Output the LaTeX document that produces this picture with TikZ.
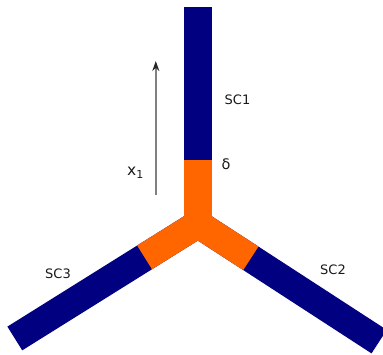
\documentclass[tikz,border=0pt]{standalone}
\usepackage{fontspec}
\setmainfont{DejaVu Sans}
\usetikzlibrary{arrows.meta,calc}
\definecolor{navyarm}{RGB}{0,0,128}
\definecolor{orangearm}{RGB}{255,102,0}
\tikzset{
  armbar/.style={line width=28pt, line cap=butt, draw=navyarm},
  orangebar/.style={line width=28pt, line cap=butt, draw=orangearm},
  lbl/.style={font=\fontsize{13}{14}\selectfont, text=black!90, inner sep=0pt},
  axisarrow/.style={draw=black!50, line width=1.8pt, -{Stealth[black!85, length=10pt, width=7pt]}}
}
\begin{document}
\begin{tikzpicture}[x=1pt,y=-1pt]
\useasboundingbox (0,0) rectangle (383,354);
% centre and arm ends (y grows downward)
\coordinate (c) at (198,224);
\coordinate (t1) at ($(c)+(-90:217)$);
\coordinate (t3) at ($(c)+(148:216)$);
\coordinate (t2) at ($(c)+(33:216)$);
\coordinate (o1) at ($(c)+(-90:64)$);
\coordinate (o3) at ($(c)+(148:63)$);
\coordinate (o2) at ($(c)+(33:63)$);
% blue arms
\draw[armbar] (c) -- (t1);
\draw[armbar] (c) -- (t3);
\draw[armbar] (c) -- (t2);
% orange junction
\draw[orangebar] (c) -- (o1);
\draw[orangebar] (c) -- (o3);
\draw[orangebar] (c) -- (o2);
\fill[orangearm] (c) circle (13.5pt);
% axis arrow
\coordinate (a0) at (155.8,195);
\coordinate (a1) at (155.8,61);
\draw[axisarrow] (a0) -- (a1);
% labels
\node[lbl] (sc1) at (237.5,99.5) {SC1};
\node[lbl] (sc2) at (333,270) {SC2};
\node[lbl] (sc3) at (58,274) {SC3};
\node[lbl, font=\fontsize{14.5}{15}\selectfont] (delta) at (226,164.5) {δ};
\node[lbl, anchor=base west] (x1) at (127,175) {{\fontsize{15.5}{16}\selectfont x}\raisebox{-3pt}{\fontsize{11}{12}\selectfont 1}};
\end{tikzpicture}
\end{document}
